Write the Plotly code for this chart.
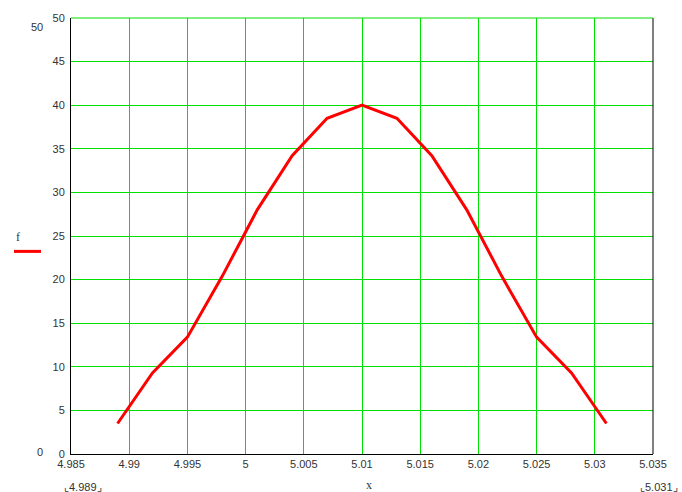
import plotly.graph_objects as go

x_vals = [4.989, 4.992, 4.995, 4.998, 5.001, 5.004, 5.007, 5.010,
          5.013, 5.016, 5.019, 5.022, 5.025, 5.028, 5.031]
f_vals = [3.5, 9.3, 13.4, 20.4, 28.0, 34.2, 38.5, 40.0,
          38.5, 34.2, 28.0, 20.4, 13.4, 9.3, 3.5]
x_ticks = [4.985, 4.99, 4.995, 5.0, 5.005, 5.01, 5.015, 5.02, 5.025, 5.03, 5.035]
x_tick_text = ["4.985", "4.99", "4.995", "5", "5.005", "5.01", "5.015", "5.02", "5.025", "5.03", "5.035"]
y_ticks = [0, 5, 10, 15, 20, 25, 30, 35, 40, 45, 50]

W, H = 682, 492
L, R, T, B = 71, 653, 15, 454

def px(xp):
    return (xp - L) / (R - L)

def py(yp):
    return (B - yp) / (B - T)

fig = go.Figure()
fig.add_trace(go.Scatter(x=x_vals, y=f_vals, mode="lines",
                         line=dict(color="#ff0000", width=3), showlegend=False))

tickfont = dict(family="Liberation Sans, Arial", size=11, color="#333333")
fig.update_layout(
    width=W, height=H,
    margin=dict(l=L, r=W - R, t=T, b=H - B),
    paper_bgcolor="white", plot_bgcolor="white",
    xaxis=dict(range=[4.985, 5.035], tickvals=x_ticks, ticktext=x_tick_text,
               showgrid=True, gridcolor="#00e000", gridwidth=1,
               showline=True, linecolor="black", linewidth=1, mirror=False,
               zeroline=False, ticks="", tickfont=tickfont, ticklabelstandoff=0),
    yaxis=dict(range=[0, 50], tickvals=y_ticks,
               showgrid=True, gridcolor="#00e000", gridwidth=1,
               showline=True, linecolor="black", linewidth=1,
               zeroline=False, ticks="", tickfont=tickfont, ticklabelstandoff=3),
)

# right border (black) and top gridline (green)
fig.add_shape(type="line", xref="paper", yref="paper", x0=1, x1=1, y0=0, y1=1,
              line=dict(color="black", width=1))
fig.add_shape(type="line", xref="paper", yref="paper", x0=0, x1=1, y0=1, y1=1,
              line=dict(color="#00e000", width=1))

# legend sample
fig.add_shape(type="line", xref="paper", yref="paper",
              x0=px(14), x1=px(41), y0=py(250), y1=py(250),
              line=dict(color="#ff0000", width=3))

serif = dict(family="Liberation Serif, Times New Roman", size=12, color="#333333")
ann = [
    ("f", 18, 236, serif),
    ("x", 369, 485, serif),
    ("50", 37, 24, tickfont),
    ("0", 40, 452, tickfont),
    ("⌞4.989⌟", 83, 487, tickfont),
    ("⌞5.031⌟", 659, 487, tickfont),
]
for text, ax_, ay_, fnt in ann:
    fig.add_annotation(text=text, xref="paper", yref="paper", x=px(ax_), y=py(ay_),
                       xanchor="center", yanchor="middle", showarrow=False, font=fnt)

fig.write_html("out.html", config={"displayModeBar": False},
               post_script="document.body.style.margin='0';document.body.style.padding='0';")
